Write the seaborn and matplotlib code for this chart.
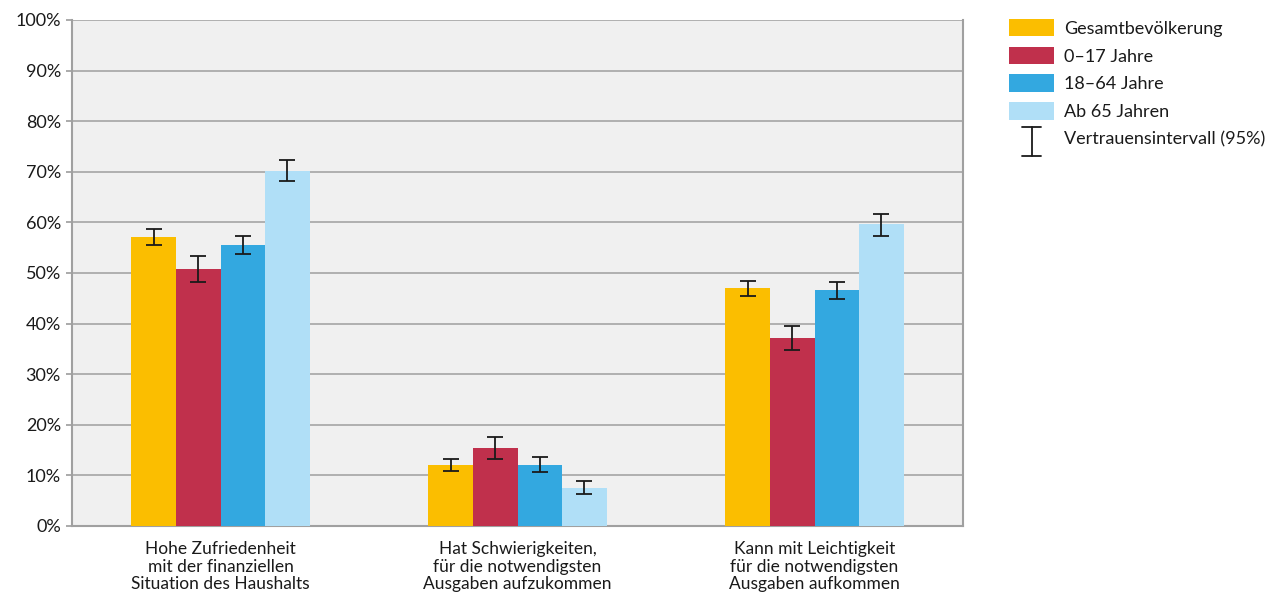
import matplotlib
matplotlib.use("Agg")
import matplotlib.pyplot as plt
import seaborn as sns
import pandas as pd
import numpy as np
from matplotlib.patches import Patch
from matplotlib.lines import Line2D
from matplotlib.legend_handler import HandlerBase

categories = ["Hohe Zufriedenheit\nmit der finanziellen\nSituation des Haushalts",
              "Hat Schwierigkeiten,\nfür die notwendigsten\nAusgaben aufzukommen",
              "Kann mit Leichtigkeit\nfür die notwendigsten\nAusgaben aufkommen"]
groups = ["Gesamtbevölkerung", "0–17 Jahre", "18–64 Jahre", "Ab 65 Jahren"]

gesamt = [57.1, 12.1, 47.0]
jahre_0_17 = [50.8, 15.4, 37.2]
jahre_18_64 = [55.5, 12.1, 46.6]
ab_65 = [70.2, 7.5, 59.7]

gesamt_lo = [55.5, 10.8, 45.4]
gesamt_hi = [58.7, 13.3, 48.5]
j017_lo = [48.2, 13.2, 34.8]
j017_hi = [53.4, 17.5, 39.6]
j1864_lo = [53.8, 10.7, 44.9]
j1864_hi = [57.3, 13.6, 48.3]
ab65_lo = [68.2, 6.3, 57.4]
ab65_hi = [72.3, 8.8, 61.7]

colors = ["#FBBE00", "#C0304C", "#33A8E0", "#B0DFF7"]

values = [gesamt, jahre_0_17, jahre_18_64, ab_65]
lows = [gesamt_lo, j017_lo, j1864_lo, ab65_lo]
highs = [gesamt_hi, j017_hi, j1864_hi, ab65_hi]

rows = []
for g, vals in zip(groups, values):
    for c, v in zip(categories, vals):
        rows.append({"cat": c, "grp": g, "val": v})
df = pd.DataFrame(rows)

sns.set_theme(style="white")
plt.rcParams["font.family"] = ["Lato", "DejaVu Sans"]

fig = plt.figure(figsize=(12.74, 5.98), dpi=100)
ax = fig.add_axes([72/1274, 1-526/598, (963-72)/1274, (526-20)/598])
ax.set_facecolor("#F0F0F0")

sns.barplot(data=df, x="cat", y="val", hue="grp", order=categories, hue_order=groups,
            palette=colors, width=0.6, errorbar=None, saturation=1, ax=ax, legend=False,
            linewidth=0, zorder=3)

for i, (container, lo, hi, vals) in enumerate(zip(ax.containers, lows, highs, values)):
    xs = [p.get_x() + p.get_width()/2 for p in container.patches]
    v = np.array(vals)
    yerr = np.array([v - np.array(lo), np.array(hi) - v])
    ax.errorbar(xs, v, yerr=yerr, fmt="none", ecolor="#1a1a1a", elinewidth=1.3,
                capsize=5.5, capthick=1.3, zorder=5)

ax.set_ylim(0, 100)
ax.set_xlim(-0.5, 2.5)
ax.set_yticks(np.arange(0, 101, 10))
ax.set_yticklabels([f"{t}%" for t in range(0, 101, 10)], fontsize=13, color="#1a1a1a")
ax.yaxis.grid(True, color="#ABABAB", linewidth=1.3, zorder=0)
ax.set_axisbelow(True)
ax.set_xlabel("")
ax.set_ylabel("")
ax.spines["top"].set_visible(False)
for s in ["left", "bottom", "right"]:
    ax.spines[s].set_visible(True)
    ax.spines[s].set_color("#A0A0A0")
    ax.spines[s].set_linewidth(1.5)
ax.tick_params(axis="y", which="both", left=True, length=4, color="#A0A0A0", pad=4)
ax.tick_params(axis="x", which="both", bottom=False, pad=5)
for lbl in ax.get_xticklabels():
    lbl.set_fontsize(12.5)
    lbl.set_color("#1a1a1a")
    lbl.set_linespacing(1.12)


class ErrHandler(HandlerBase):
    def create_artists(self, legend, orig_handle, xdescent, ydescent, width, height, fontsize, trans):
        cx = width * 0.5 - xdescent
        top = height * 1.0
        bot = -height * 0.65
        cap = 7
        l1 = Line2D([cx, cx], [bot, top], color="#1a1a1a", lw=1.3, transform=trans)
        l2 = Line2D([cx - cap, cx + cap], [top, top], color="#1a1a1a", lw=1.3, transform=trans)
        l3 = Line2D([cx - cap, cx + cap], [bot, bot], color="#1a1a1a", lw=1.3, transform=trans)
        return [l1, l2, l3]


err_handle = object()
handles = [Patch(facecolor=c, edgecolor="none") for c in colors] + [err_handle]
labels = groups + ["Vertrauensintervall (95%)"]
leg = fig.legend(handles, labels, loc="upper left", bbox_to_anchor=(1009/1274, 1-19/598),
                 frameon=False, fontsize=13, handlelength=2.5, handleheight=1.1,
                 handletextpad=0.55, labelspacing=0.55, borderpad=0, borderaxespad=0,
                 handler_map={type(err_handle): ErrHandler()})
for t in leg.get_texts():
    t.set_color("#1a1a1a")
# extra gap before the confidence-interval entry, as in the reference
leg_texts = leg.get_texts()

fig.savefig("out.png", dpi=100)
